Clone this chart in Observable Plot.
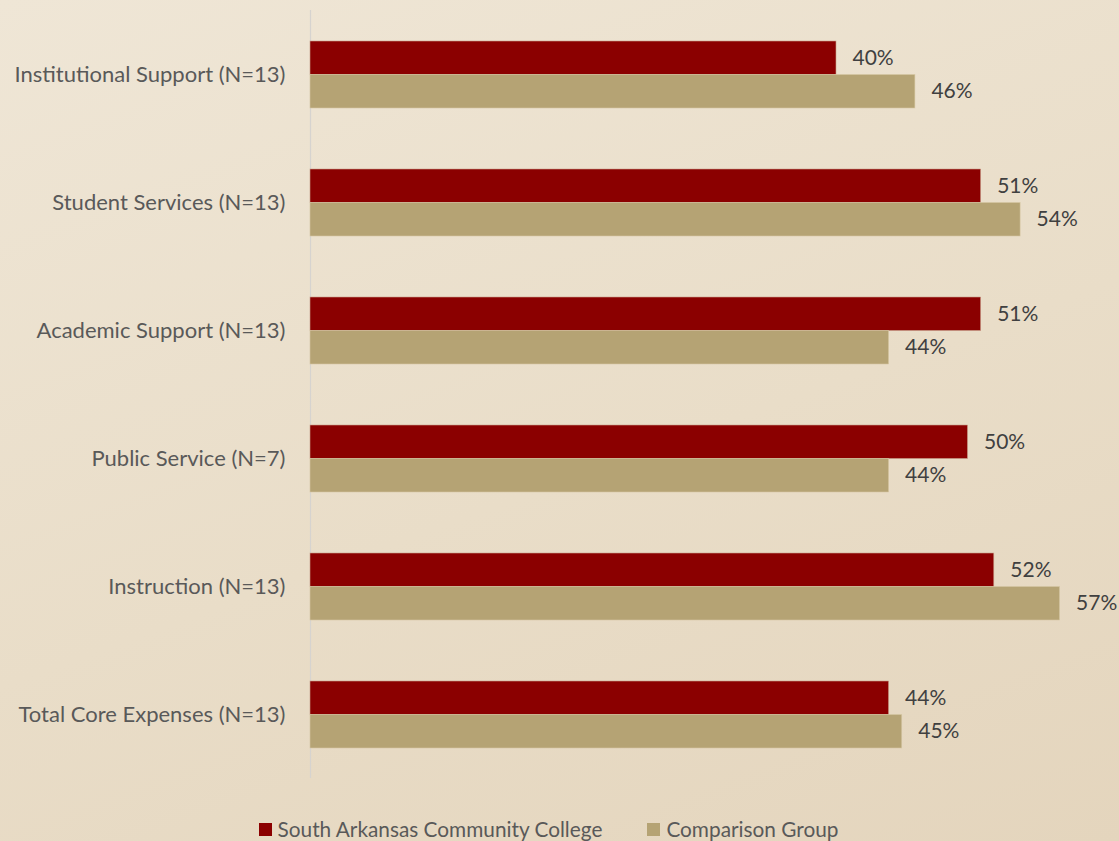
<!DOCTYPE html>
<html>
<head>
<meta charset="utf-8">
<script src="https://cdn.jsdelivr.net/npm/d3@7"></script>
<script src="https://cdn.jsdelivr.net/npm/@observablehq/plot@0.6"></script>
<style>
  html, body { margin: 0; padding: 0; }
  body {
    width: 1119px; height: 841px; overflow: hidden;
    background: linear-gradient(160deg, #efe6d6 0%, #e9ddc8 55%, #e4d5bd 100%);
    font-family: Lato, "Open Sans", sans-serif;
  }
  #legend {
    display: flex; justify-content: center; gap: 45px;
    font-size: 20.8px; color: #595959; margin-top: 28px; line-height: 22px;
    padding-right: 22px;
  }
  #legend span.item { display: flex; align-items: center; }
  #legend span.sw { display: inline-block; width: 13px; height: 13px; margin-right: 6px; }
</style>
</head>
<body>
<div id="chart"></div>
<div id="legend"></div>
<script>
const categories = [
  "Institutional Support (N=13)",
  "Student Services (N=13)",
  "Academic Support (N=13)",
  "Public Service (N=7)",
  "Instruction (N=13)",
  "Total Core Expenses (N=13)"
];
const seriesNames = ["South Arkansas Community College", "Comparison Group"];
const saccValues = [0.40, 0.51, 0.51, 0.50, 0.52, 0.44];
const comparisonValues = [0.46, 0.54, 0.44, 0.44, 0.57, 0.45];
const colors = ["#8b0000", "#b5a374"];

const sacc = categories.map((c, i) => ({category: c, value: saccValues[i]}));
const comp = categories.map((c, i) => ({category: c, value: comparisonValues[i]}));

const fmt = d3.format(".0%");
const halfBand = 33.5;

const chart = Plot.plot({
  width: 1119,
  height: 790,
  marginLeft: 310,
  marginRight: 20,
  marginTop: 10,
  marginBottom: 12,
  style: {background: "transparent", fontFamily: "Lato, 'Open Sans', sans-serif", color: "#595959"},
  x: {domain: [0, 0.6], axis: null},
  y: {domain: categories, paddingInner: 0.477, paddingOuter: 0.2385, label: null},
  marks: [
    Plot.axisY({tickSize: 0, tickPadding: 25, fontSize: 22, label: null, fill: "#595959"}),
    Plot.ruleX([0], {stroke: "#d6d3cf", strokeWidth: 1.2}),
    Plot.barX(sacc, {x: "value", y: "category", fill: colors[0], insetBottom: halfBand, stroke: "#c9a08a", strokeWidth: 0.6}),
    Plot.barX(comp, {x: "value", y: "category", fill: colors[1], insetTop: halfBand, stroke: "#d6c7a4", strokeWidth: 0.6}),
    Plot.text(sacc, {x: "value", y: "category", text: d => fmt(d.value), dy: -16.75, dx: 16, textAnchor: "start", fontSize: 21, fill: "#404040"}),
    Plot.text(comp, {x: "value", y: "category", text: d => fmt(d.value), dy: 16.75, dx: 16, textAnchor: "start", fontSize: 21, fill: "#404040"})
  ]
});
document.getElementById("chart").appendChild(chart);

const legend = document.getElementById("legend");
seriesNames.forEach((n, i) => {
  const item = document.createElement("span");
  item.className = "item";
  const sw = document.createElement("span");
  sw.className = "sw";
  sw.style.background = colors[i];
  item.appendChild(sw);
  item.appendChild(document.createTextNode(n));
  legend.appendChild(item);
});
</script>
</body>
</html>
